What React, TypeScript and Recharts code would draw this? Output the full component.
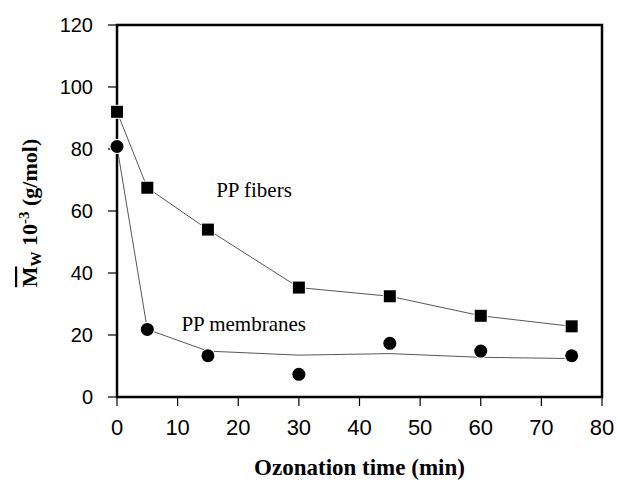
import React from 'react';
import {
  LineChart,
  Line,
  XAxis,
  YAxis,
  ReferenceArea,
  ReferenceDot,
} from 'recharts';

// ozonation time (min)
const times = [0, 5, 15, 30, 45, 60, 75];
// Mw 10^-3 (g/mol), measured points
const fibers = [92, 67.5, 54, 35.3, 32.5, 26.2, 22.8];
const membranes = [80.8, 21.8, 13.3, 7.3, 17.3, 14.8, 13.3];
// trend line drawn through the membrane data
const membraneTrend = [80.8, 21.8, 14.8, 13.5, 14, 12.8, 12.4];

const xTicks = [0, 10, 20, 30, 40, 50, 60, 70, 80];
const yTicks = [0, 20, 40, 60, 80, 100, 120];

const data = times.map((t, i) => ({
  t,
  fibers: fibers[i],
  membranes: membranes[i],
  trend: membraneTrend[i],
}));

const serif = '"Liberation Serif", "Times New Roman", serif';
const sans = '"Liberation Sans", Arial, sans-serif';

const Square = (props: any) => {
  const { cx, cy } = props;
  if (cx == null || cy == null) return null;
  return (
    <rect x={cx - 6} y={cy - 6} width={12} height={12} fill="#000" stroke="#fff" strokeWidth={2} paintOrder="stroke" />
  );
};

const Circle = (props: any) => {
  const { cx, cy } = props;
  if (cx == null || cy == null) return null;
  return <circle cx={cx} cy={cy} r={6.5} fill="#000" stroke="#fff" strokeWidth={2} paintOrder="stroke" />;
};

const XTitle = (props: any) => {
  const { viewBox } = props;
  return (
    <text
      x={viewBox.x + viewBox.width / 2}
      y={viewBox.y + viewBox.height - 7}
      textAnchor="middle"
      fontFamily={serif}
      fontWeight="bold"
      fontSize={23}
      fill="#000"
    >
      Ozonation time (min)
    </text>
  );
};

const YTitle = (props: any) => {
  const { viewBox } = props;
  const cx = 37;
  const cy = viewBox.y + viewBox.height / 2 + 2;
  return (
    <text
      x={cx}
      y={cy}
      transform={`rotate(-90, ${cx}, ${cy})`}
      textAnchor="middle"
      fontFamily={serif}
      fontWeight="bold"
      fontSize={22}
      fill="#000"
    >
      <tspan textDecoration="overline" style={{ textDecoration: 'overline' }}>M</tspan>
      <tspan fontSize={15} dy={4}>W</tspan>
      <tspan dy={-4}> 10</tspan>
      <tspan fontSize={15} dy={-8}>-3</tspan>
      <tspan dy={8}> (g/mol)</tspan>
    </text>
  );
};

export default function App() {
  return (
    <div style={{ position: 'absolute', left: 0, top: 0, background: '#fff' }}>
      <LineChart width={617} height={482} data={data} margin={{ top: 25, right: 15, left: 0, bottom: 0 }}>
        <ReferenceArea
          x1={0}
          x2={80}
          y1={0}
          y2={120}
          fill="none"
          stroke="#000"
          strokeWidth={2.5}
          ifOverflow="visible"
        />
        <XAxis
          type="number"
          dataKey="t"
          domain={[0, 80]}
          ticks={xTicks}
          height={85}
          axisLine={false}
          tickLine={{ stroke: '#000', strokeWidth: 1.2 }}
          tickSize={9}
          tickMargin={13}
          tick={{ fill: '#000', fontSize: 22, fontFamily: sans }}
          label={<XTitle />}
        />
        <YAxis
          type="number"
          domain={[0, 120]}
          ticks={yTicks}
          width={117}
          axisLine={false}
          tickLine={{ stroke: '#000', strokeWidth: 1.2 }}
          tickSize={9}
          tickMargin={15}
          tick={{ fill: '#000', fontSize: 20, fontFamily: sans }}
          label={<YTitle />}
        />
        <Line
          dataKey="trend"
          type="linear"
          stroke="#444"
          strokeWidth={0.9}
          dot={false}
          activeDot={false}
          isAnimationActive={false}
        />
        <Line
          dataKey="membranes"
          type="linear"
          stroke="none"
          dot={<Circle />}
          activeDot={false}
          isAnimationActive={false}
        />
        <Line
          dataKey="fibers"
          type="linear"
          stroke="#444"
          strokeWidth={0.9}
          dot={<Square />}
          activeDot={false}
          isAnimationActive={false}
        />
        <ReferenceDot
          x={22.6}
          y={66.8}
          r={0}
          fill="none"
          stroke="none"
          label={{ value: 'PP fibers', position: 'center', fontFamily: serif, fontSize: 21, fill: '#000' }}
        />
        <ReferenceDot
          x={20.9}
          y={23.6}
          r={0}
          fill="none"
          stroke="none"
          label={{ value: 'PP membranes', position: 'center', fontFamily: serif, fontSize: 21, fill: '#000' }}
        />
      </LineChart>
    </div>
  );
}
